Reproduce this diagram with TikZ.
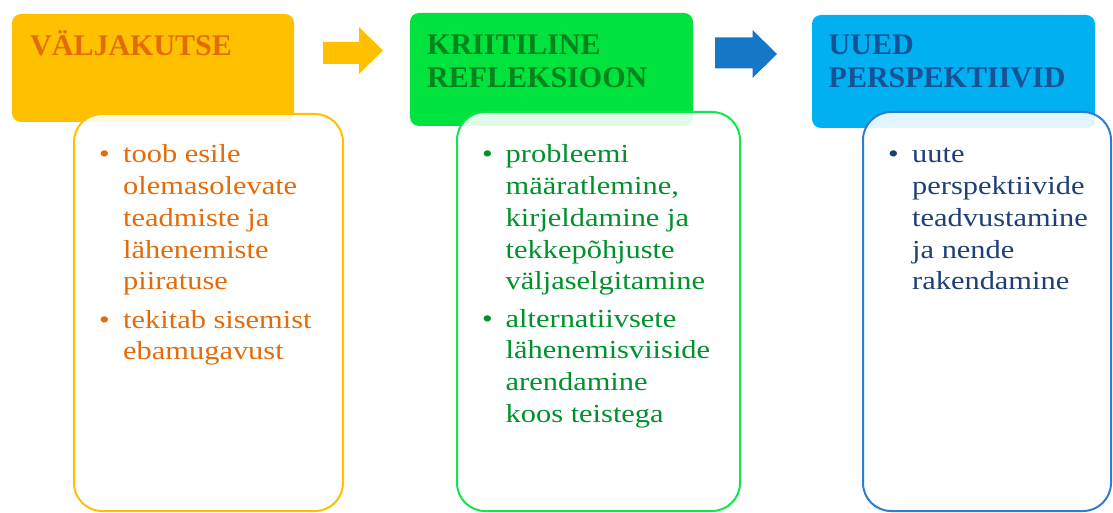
\documentclass[tikz,border=0pt]{standalone}
\usepackage{fontspec}
\setmainfont{Liberation Serif}
\newfontfamily\bodyfont{Liberation Serif}[FakeStretch=1.17]
\definecolor{gold}{RGB}{255,192,0}
\definecolor{orangetxt}{RGB}{226,107,10}
\definecolor{greenfill}{RGB}{0,226,62}
\definecolor{greenhead}{RGB}{0,132,28}
\definecolor{greentxt}{RGB}{0,145,45}
\definecolor{greenline}{RGB}{20,228,80}
\definecolor{bluearrow}{RGB}{22,118,200}
\definecolor{bluefill}{RGB}{0,176,240}
\definecolor{bluehead}{RGB}{24,82,150}
\definecolor{bluetxt}{RGB}{30,64,118}
\definecolor{blueline}{RGB}{46,126,208}
\tikzset{
  headbox/.style={rounded corners=9pt},
  bodybox/.style={rounded corners=28pt, line width=2pt, fill=white, fill opacity=0.88},
  headtxt/.style={anchor=base west, inner sep=0pt, font=\bfseries\fontsize{30}{33}\selectfont},
  bodytxt/.style={anchor=base west, inner sep=0pt, font=\bodyfont\fontsize{26}{31.7}\selectfont},
  bul/.style={anchor=base, inner sep=0pt, font=\bodyfont\fontsize{26}{31.7}\selectfont},
}
\begin{document}
\begin{tikzpicture}[x=1pt,y=-1pt]
\useasboundingbox (0,0) rectangle (1113,513);
% --- orange column
\fill[gold, headbox] (12,14) rectangle (294,122);
\draw[gold, bodybox] (74,114) rectangle (343,511);
\node[headtxt, text=orangetxt] (h1) at (30,55.5) {VÄLJAKUTSE};
\node[bul, text=orangetxt] (b11) at (104.5,163) {\textbullet};
\node[bodytxt, text=orangetxt] (t11) at (123,163) {\vtop{\hbox{toob esile}\hbox{olemasolevate}\hbox{teadmiste ja}\hbox{lähenemiste}\hbox{piiratuse}}};
\node[bul, text=orangetxt] (b12) at (104.5,328) {\textbullet};
\node[bodytxt, text=orangetxt] (t12) at (123,328) {\vtop{\hbox{tekitab sisemist}\hbox{ebamugavust}}};
% arrow 1
\fill[gold] (323,42) -- (359,42) -- (359,27) -- (383,50.5) -- (359,74) -- (359,64) -- (323,64) -- cycle;
% --- green column
\fill[greenfill, headbox] (410,13) rectangle (693,126);
\draw[greenline, bodybox] (457,112) rectangle (740,511);
\node[headtxt, text=greenhead] (h2) at (427,54.5) {\vtop{\hbox{KRIITILINE}\hbox{REFLEKSIOON}}};
\node[bul, text=greentxt] (b21) at (487.5,163) {\textbullet};
\node[bodytxt, text=greentxt] (t21) at (505.5,163) {\vtop{\hbox{probleemi}\hbox{määratlemine,}\hbox{kirjeldamine ja}\hbox{tekkepõhjuste}\hbox{väljaselgitamine}}};
\node[bul, text=greentxt] (b22) at (487.5,327) {\textbullet};
\node[bodytxt, text=greentxt] (t22) at (505.5,327) {\vtop{\hbox{alternatiivsete}\hbox{lähenemisviiside}\hbox{arendamine}\hbox{koos teistega}}};
% arrow 2
\fill[bluearrow] (715,37.5) -- (752.5,37.5) -- (752.5,30) -- (777,54) -- (752.5,78) -- (752.5,68.5) -- (715,68.5) -- cycle;
% --- blue column
\fill[bluefill, headbox] (812,15) rectangle (1095,128);
\draw[blueline, bodybox] (863,112) rectangle (1111,511);
\node[headtxt, text=bluehead] (h3) at (828.5,55) {\vtop{\hbox{UUED}\hbox{PERSPEKTIIVID}}};
\node[bul, text=bluetxt] (b31) at (893.5,163) {\textbullet};
\node[bodytxt, text=bluetxt] (t31) at (912,163) {\vtop{\hbox{uute}\hbox{perspektiivide}\hbox{teadvustamine}\hbox{ja nende}\hbox{rakendamine}}};
\end{tikzpicture}
\end{document}
